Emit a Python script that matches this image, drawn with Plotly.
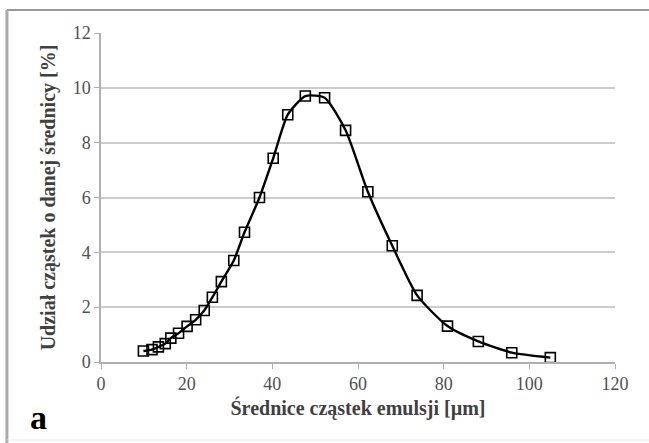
import plotly.graph_objects as go

diameter_um = [9.9, 11.9, 13.4, 15.0, 16.3, 18.1, 20.1, 22.1, 24.1, 26.0, 28.1, 31.0,
               33.5, 37.0, 40.2, 43.6, 47.7, 52.2, 57.1, 62.3, 68.0, 73.8, 80.9, 88.1,
               95.9, 104.9]
share_pct = [0.40, 0.45, 0.55, 0.67, 0.87, 1.05, 1.30, 1.54, 1.88, 2.36, 2.93, 3.70,
             4.73, 6.00, 7.43, 9.02, 9.70, 9.64, 8.45, 6.21, 4.24, 2.43, 1.31, 0.75,
             0.34, 0.16]

x_ticks = [0, 20, 40, 60, 80, 100, 120]
y_ticks = [0, 2, 4, 6, 8, 10, 12]
x_title = "Średnice cząstek emulsji [µm]"
y_title = "Udział cząstek o danej średnicy [%]"
panel_label = "a"

font_family = "Liberation Serif"

fig = go.Figure()
fig.add_trace(go.Scatter(
    x=diameter_um, y=share_pct, mode="lines+markers",
    line=dict(color="black", width=2.4, shape="spline", smoothing=0.6),
    marker=dict(symbol="square-open", size=10, color="black", line=dict(width=1.6, color="black")),
    showlegend=False,
))

fig.update_layout(
    width=649, height=443,
    margin=dict(l=101, r=34, t=33, b=81),
    paper_bgcolor="white", plot_bgcolor="white",
    font=dict(family=font_family, color="#444444"),
    xaxis=dict(
        range=[0, 120], tickvals=x_ticks, ticktext=[str(v) for v in x_ticks],
        showgrid=False, zeroline=False,
        showline=True, linecolor="#b0b0b0", linewidth=1.5,
        ticks="outside", ticklen=5, tickcolor="#b0b0b0", tickwidth=1,
        tickfont=dict(size=18, color="#505050", family=font_family),
        title=dict(text="<b>" + x_title + "</b>", font=dict(size=20, color="#404040", family=font_family), standoff=8),
    ),
    yaxis=dict(
        range=[0, 12], tickvals=y_ticks, ticktext=[str(v) for v in y_ticks],
        showgrid=True, gridcolor="#cccccc", gridwidth=1.6, zeroline=False,
        showline=True, linecolor="#b0b0b0", linewidth=1.5,
        ticks="outside", ticklen=5, tickcolor="#b0b0b0", tickwidth=1,
        tickfont=dict(size=18, color="#505050", family=font_family),
        title=dict(text="<b>" + y_title + "</b>", font=dict(size=20, color="#404040", family=font_family), standoff=12),
    ),
    annotations=[
        dict(text="<b>" + panel_label + "</b>", xref="paper", yref="paper", x=-0.142, y=-0.17,
             xanchor="left", yanchor="middle", showarrow=False,
             font=dict(size=34, color="black", family=font_family)),
    ],
)

# outer frame of the cropped figure: top and left edges, faint bottom edge
fig.add_shape(type="line", xref="paper", yref="paper", x0=-0.183, x1=1.1, y0=1.07, y1=1.07,
              line=dict(color="#999999", width=2))
fig.add_shape(type="line", xref="paper", yref="paper", x0=-0.183, x1=-0.183, y0=-0.26, y1=1.07,
              line=dict(color="#aaaaaa", width=3))
fig.add_shape(type="line", xref="paper", yref="paper", x0=-0.183, x1=1.1, y0=-0.237, y1=-0.237,
              line=dict(color="#e6e6e6", width=1))

fig.write_html("out.html", config={"displayModeBar": False},
               post_script="document.body.style.margin='0';")
